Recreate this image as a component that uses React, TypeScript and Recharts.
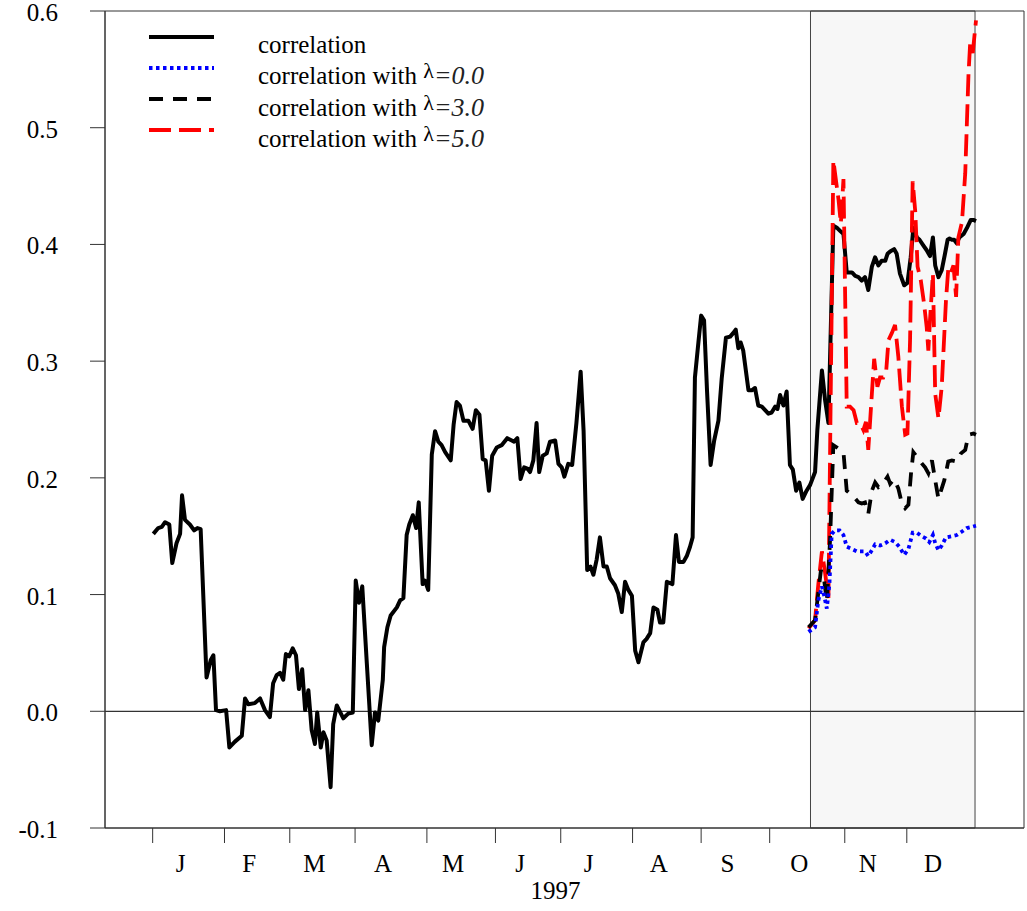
import React from 'react';
import { LineChart, Line, XAxis, YAxis, ReferenceArea, ReferenceLine, Legend } from 'recharts';

// x values are trading days of 1997 (0 = first trading day of January)
const monthStarts = [0, 22, 42, 62, 84, 105, 125, 147, 168, 189, 212, 231];
const lastDay = 252;
const monthLetters = ['J', 'F', 'M', 'A', 'M', 'J', 'J', 'A', 'S', 'O', 'N', 'D'];
const yearLabel = '1997';
const yTicks = [-0.1, 0.0, 0.1, 0.2, 0.3, 0.4, 0.5, 0.6];
const xDomain = [-14.6, 266.9];
const shadedWindow = [201.5, 251.9];

const correlation: [number, number][] = [
  [0.2, 0.152], [1.7, 0.157], [2.8, 0.158], [3.8, 0.162], [5.1, 0.16], [6.0, 0.127], [7.3, 0.144],
  [8.4, 0.152], [9.0, 0.185], [9.9, 0.164], [11.4, 0.16], [12.7, 0.155], [13.7, 0.157], [14.7, 0.156],
  [16.5, 0.029], [17.8, 0.044], [18.6, 0.048], [19.4, 0.001], [20.6, 0.0], [22.5, 0.001], [23.5, -0.031],
  [25.2, -0.026], [27.3, -0.021], [28.3, 0.011], [29.3, 0.006], [31.3, 0.007], [32.9, 0.011], [34.4, 0.001],
  [35.9, -0.005], [36.9, 0.024], [38.0, 0.031], [39.0, 0.033], [40.0, 0.027], [40.8, 0.049], [41.8, 0.047],
  [42.9, 0.054], [43.9, 0.048], [44.8, 0.019], [45.8, 0.036], [46.7, 0.001], [47.7, 0.018], [48.7, -0.016],
  [49.7, -0.028], [50.4, -0.001], [51.5, -0.031], [52.3, -0.018], [53.3, -0.025], [54.5, -0.065], [55.3, -0.011],
  [56.4, 0.005], [58.4, -0.006], [59.9, -0.002], [61.3, -0.001], [62.2, 0.112], [63.2, 0.093], [64.2, 0.107],
  [65.6, 0.041], [67.1, -0.029], [68.1, -0.001], [69.1, -0.008], [70.5, 0.027], [70.9, 0.055], [71.9, 0.072],
  [72.9, 0.082], [74.8, 0.089], [75.8, 0.095], [76.8, 0.097], [77.8, 0.151], [78.6, 0.16], [79.7, 0.168],
  [80.7, 0.157], [81.5, 0.179], [82.7, 0.109], [83.4, 0.112], [84.4, 0.104], [85.5, 0.22], [86.5, 0.24],
  [87.5, 0.231], [88.5, 0.228], [89.6, 0.222], [91.3, 0.215], [92.2, 0.246], [93.1, 0.265], [94.1, 0.262],
  [95.2, 0.249], [96.7, 0.249], [98.0, 0.242], [99.0, 0.258], [100.1, 0.254], [101.1, 0.216], [102.0, 0.215],
  [103.0, 0.189], [104.0, 0.219], [105.4, 0.226], [106.9, 0.228], [108.6, 0.234], [110.0, 0.232], [110.7, 0.231],
  [111.7, 0.234], [112.7, 0.199], [113.8, 0.209], [114.8, 0.208], [115.6, 0.205], [116.6, 0.215], [117.6, 0.247],
  [118.4, 0.205], [119.5, 0.219], [120.7, 0.221], [121.7, 0.231], [123.3, 0.232], [124.3, 0.212], [125.3, 0.209],
  [126.1, 0.201], [127.3, 0.212], [128.5, 0.211], [129.8, 0.247], [131.1, 0.291], [132.0, 0.24], [133.1, 0.121],
  [134.1, 0.124], [135.0, 0.117], [136.0, 0.13], [137.0, 0.149], [138.1, 0.124], [139.1, 0.124], [140.1, 0.114],
  [141.6, 0.108], [142.6, 0.101], [143.7, 0.085], [144.7, 0.111], [145.7, 0.104], [146.8, 0.099], [147.8, 0.052],
  [148.8, 0.042], [150.3, 0.059], [151.3, 0.062], [152.4, 0.067], [153.4, 0.089], [154.6, 0.087], [155.4, 0.076],
  [156.4, 0.076], [157.5, 0.111], [159.2, 0.109], [160.3, 0.151], [161.2, 0.128], [162.6, 0.128], [163.6, 0.133],
  [164.6, 0.141], [165.4, 0.149], [166.1, 0.286], [167.2, 0.317], [168.0, 0.339], [168.9, 0.335], [169.8, 0.275],
  [170.9, 0.211], [172.0, 0.232], [173.3, 0.249], [174.3, 0.285], [175.6, 0.32], [176.9, 0.321], [177.8, 0.324],
  [178.6, 0.327], [179.4, 0.311], [180.1, 0.316], [180.9, 0.309], [182.5, 0.275], [183.5, 0.275], [184.5, 0.277],
  [185.5, 0.262], [186.6, 0.261], [187.6, 0.258], [188.6, 0.255], [189.6, 0.256], [190.7, 0.261], [191.4, 0.259],
  [192.2, 0.271], [193.2, 0.262], [194.2, 0.274], [195.2, 0.211], [196.1, 0.207], [197.1, 0.189], [198.1, 0.196],
  [199.1, 0.182], [200.3, 0.189], [201.4, 0.194], [202.9, 0.205], [203.6, 0.241], [205.0, 0.292], [206.0, 0.266],
  [207.0, 0.247], [208.5, 0.416], [209.7, 0.414], [210.8, 0.411], [211.6, 0.409], [212.6, 0.376], [214.2, 0.376],
  [215.2, 0.373], [216.2, 0.372], [217.2, 0.369], [218.2, 0.372], [219.2, 0.361], [220.3, 0.381], [221.3, 0.389],
  [222.3, 0.382], [223.3, 0.386], [224.4, 0.386], [225.1, 0.392], [225.9, 0.394], [227.1, 0.396], [227.9, 0.392],
  [228.9, 0.375], [230.2, 0.365], [231.2, 0.367], [232.2, 0.389], [233.0, 0.414], [234.1, 0.406], [234.9, 0.404],
  [236.1, 0.399], [237.1, 0.395], [238.1, 0.39], [239.0, 0.406], [239.7, 0.382], [240.7, 0.372], [241.7, 0.378],
  [242.7, 0.392], [243.5, 0.404], [244.1, 0.405], [244.8, 0.404], [245.5, 0.404], [246.3, 0.401], [247.1, 0.406],
  [248.4, 0.409], [249.4, 0.414], [250.6, 0.421], [251.4, 0.421], [252.2, 0.42],
];

const lambda0: [number, number][] = [
  [200.9, 0.068], [202.9, 0.072], [203.9, 0.095], [205.0, 0.107], [205.7, 0.099], [206.5, 0.088], [207.3, 0.109],
  [208.0, 0.152], [209.0, 0.155], [210.4, 0.155], [211.6, 0.151], [212.6, 0.141], [214.2, 0.139], [215.7, 0.137],
  [217.2, 0.137], [218.2, 0.137], [219.2, 0.133], [220.3, 0.138], [221.3, 0.143], [222.8, 0.142], [224.4, 0.144],
  [225.9, 0.147], [227.4, 0.145], [228.7, 0.141], [230.2, 0.134], [231.5, 0.139], [232.8, 0.153], [234.1, 0.153],
  [235.6, 0.15], [236.9, 0.148], [237.9, 0.145], [239.0, 0.151], [239.7, 0.144], [240.7, 0.138], [241.7, 0.142],
  [243.0, 0.149], [244.8, 0.15], [246.3, 0.151], [247.9, 0.154], [249.4, 0.157], [250.9, 0.158], [252.2, 0.159],
];

const lambda3: [number, number][] = [
  [200.9, 0.072], [202.9, 0.078], [204.7, 0.121], [205.7, 0.112], [206.5, 0.094], [207.5, 0.147], [208.5, 0.228],
  [209.6, 0.226], [210.6, 0.224], [211.6, 0.222], [212.6, 0.189], [214.7, 0.184], [216.2, 0.179], [217.2, 0.178],
  [218.2, 0.179], [219.2, 0.169], [220.3, 0.189], [221.3, 0.196], [222.3, 0.192], [223.3, 0.194], [224.4, 0.198],
  [225.1, 0.201], [225.9, 0.195], [227.1, 0.199], [228.4, 0.191], [229.5, 0.178], [230.5, 0.174], [231.5, 0.177],
  [232.3, 0.204], [233.0, 0.222], [234.1, 0.218], [235.1, 0.214], [236.6, 0.209], [237.6, 0.204], [238.7, 0.215],
  [239.7, 0.198], [240.7, 0.182], [241.7, 0.191], [242.5, 0.198], [243.7, 0.214], [244.8, 0.215], [246.3, 0.214],
  [247.6, 0.221], [248.9, 0.224], [249.9, 0.237], [251.4, 0.238], [252.2, 0.237],
];

const lambda5: [number, number][] = [
  [200.9, 0.071], [202.9, 0.078], [203.9, 0.109], [205.0, 0.137], [206.0, 0.118], [207.0, 0.097], [208.5, 0.472],
  [209.3, 0.455], [210.1, 0.438], [210.8, 0.418], [211.6, 0.456], [212.6, 0.261], [213.6, 0.261], [214.7, 0.258],
  [215.7, 0.247], [216.7, 0.247], [217.7, 0.241], [218.5, 0.248], [219.2, 0.224], [220.3, 0.272], [221.0, 0.302],
  [222.0, 0.278], [222.8, 0.286], [223.8, 0.286], [224.7, 0.292], [225.4, 0.318], [226.4, 0.324], [227.4, 0.331],
  [228.4, 0.304], [229.5, 0.261], [230.5, 0.237], [231.2, 0.238], [232.0, 0.318], [232.8, 0.454], [233.6, 0.428],
  [234.3, 0.381], [235.3, 0.369], [236.3, 0.349], [237.1, 0.329], [237.6, 0.309], [238.1, 0.335], [239.0, 0.375],
  [239.7, 0.272], [240.7, 0.251], [241.7, 0.278], [243.0, 0.352], [243.7, 0.379], [244.4, 0.375], [245.3, 0.382],
  [246.1, 0.355], [246.8, 0.406], [247.9, 0.419], [248.9, 0.461], [249.9, 0.546], [250.4, 0.572], [251.2, 0.564],
  [252.2, 0.592],
];

const seriesNames = ['correlation', 'correlation with ', 'correlation with ', 'correlation with '];
const seriesLambdas = ['', '=0.0', '=3.0', '=5.0'];

const FONT = '"Liberation Serif", "Times New Roman", serif';
const styles = [
  { color: '#000000', dash: undefined as string | undefined },
  { color: '#0000ff', dash: '3.5 3.5' },
  { color: '#000000', dash: '14 10' },
  { color: '#ff0000', dash: '22 8' },
];

const toRows = (pts: [number, number][]) => pts.map(([d, v]) => ({ d, v }));

const monthMids = monthStarts.map((s, i) => (s + (i < monthStarts.length - 1 ? monthStarts[i + 1] : lastDay)) / 2);
const xTicks = [...monthStarts, ...monthMids].sort((a, b) => a - b);

const MonthTick = (props: any) => {
  const { x, y, payload } = props;
  if (monthStarts.indexOf(payload.value) >= 0) {
    return <line x1={x} y1={y - 15} x2={x} y2={y} stroke="#333" strokeWidth={1} />;
  }
  const m = monthMids.indexOf(payload.value);
  return (
    <text x={x - 8} y={y + 29} textAnchor="middle" fontFamily={FONT} fontSize={25} fill="#000">
      {monthLetters[m]}
    </text>
  );
};

const ValueTick = (props: any) => {
  const { x, y, payload } = props;
  return (
    <text x={x} y={y + 10} textAnchor="end" fontFamily={FONT} fontSize={25} fill="#000">
      {Number(payload.value).toFixed(1)}
    </text>
  );
};

const renderLegend = () => (
  <svg width={520} height={165}>
    {seriesNames.map((name, i) => {
      const ly = 37 + i * 31;
      const by = 53 + i * 31.3;
      return (
        <g key={i}>
          <line x1={149} x2={214} y1={ly} y2={ly} stroke={styles[i].color} strokeWidth={4}
            strokeDasharray={styles[i].dash} />
          <text x={258} y={by} fontFamily={FONT} fontSize={25} fill="#000">
            {name}
            {seriesLambdas[i] && (
              <>
                <tspan fontSize={22} dy={-6}>λ</tspan>
                <tspan fontSize={26} fontStyle="italic" dy={6} fill="#222">{seriesLambdas[i]}</tspan>
              </>
            )}
          </text>
        </g>
      );
    })}
  </svg>
);

export default function App() {
  return (
    <div style={{ position: 'absolute', left: 0, top: 0, width: 1027, height: 911, background: '#fff' }}>
      <LineChart width={1027} height={911} margin={{ top: 11, right: 3, bottom: 0, left: 0 }}
        style={{ fontFamily: FONT }}>
        <XAxis dataKey="d" type="number" domain={xDomain} allowDataOverflow ticks={xTicks} interval={0}
          tick={<MonthTick />} tickLine={false} tickSize={15} tickMargin={0} height={83}
          axisLine={{ stroke: '#333' }}
          label={{ value: yearLabel, position: 'insideBottom', offset: 12, dx: -9,
            style: { fontFamily: FONT, fontSize: 25, fill: '#000' } }} />
        <YAxis type="number" domain={[-0.1, 0.6]} allowDataOverflow ticks={yTicks} interval={0}
          width={105} tickSize={15} tickMargin={32}
          axisLine={{ stroke: '#333' }} tickLine={{ stroke: '#333' }} tick={<ValueTick />} />
        <ReferenceArea x1={shadedWindow[0]} x2={shadedWindow[1]} fill="#f7f7f7" fillOpacity={1}
          stroke="#444" strokeWidth={1} ifOverflow="visible" />
        <ReferenceArea x1={xDomain[0]} x2={xDomain[1]} y1={-0.1} y2={0.6} fill="none"
          stroke="#333" strokeWidth={1} ifOverflow="visible" />
        <ReferenceLine y={0} stroke="#333" strokeWidth={1.2} />
        <Legend content={renderLegend} layout="horizontal" verticalAlign="middle" align="center"
          wrapperStyle={{ left: 0, top: 0, width: 520, height: 165 }} />
        <Line data={toRows(correlation)} dataKey="v" stroke={styles[0].color} strokeWidth={4}
          dot={false} isAnimationActive={false} strokeLinejoin="round" />
        <Line data={toRows(lambda5)} dataKey="v" stroke={styles[3].color} strokeWidth={3.8}
          strokeDasharray={styles[3].dash} dot={false} isAnimationActive={false} />
        <Line data={toRows(lambda3)} dataKey="v" stroke={styles[2].color} strokeWidth={3.8}
          strokeDasharray={styles[2].dash} dot={false} isAnimationActive={false} />
        <Line data={toRows(lambda0)} dataKey="v" stroke={styles[1].color} strokeWidth={3.8}
          strokeDasharray={styles[1].dash} dot={false} isAnimationActive={false} />
      </LineChart>
    </div>
  );
}
